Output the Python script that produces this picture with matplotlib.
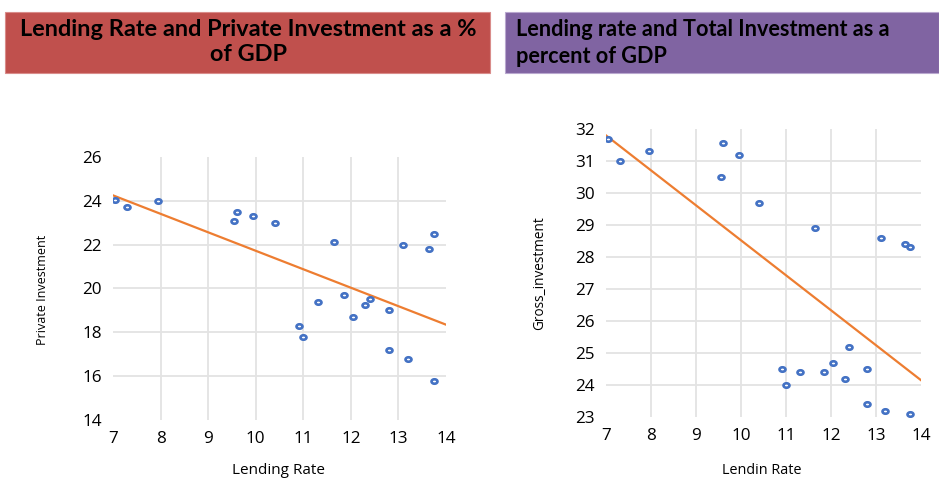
import numpy as np
import matplotlib
matplotlib.use('Agg')
import matplotlib.pyplot as plt
from matplotlib.path import Path
from matplotlib.patches import Rectangle

# Data
lending_rate = [7.05, 7.3, 7.95, 9.6, 9.55, 9.95, 10.4, 11.65, 13.1, 13.65, 13.75,
                10.9, 11.0, 11.3, 11.85, 12.05, 12.3, 12.4, 12.8, 12.8, 13.2, 13.75]
private_inv = [24.05, 23.7, 24.0, 23.5, 23.1, 23.3, 23.0, 22.1, 22.0, 21.8, 22.5,
               18.3, 17.8, 19.4, 19.7, 18.7, 19.25, 19.5, 19.0, 17.2, 16.8, 15.8]
private_trend = [24.25, 18.35]  # trendline value at x = 7 and x = 14
gross_inv = [31.7, 31.0, 31.3, 31.55, 30.5, 31.2, 29.7, 28.9, 28.6, 28.4, 28.3,
             24.5, 24.0, 24.4, 24.4, 24.7, 24.2, 25.2, 24.5, 23.4, 23.2, 23.1]
gross_trend = [31.8, 24.15]
trend_x = [7, 14]

x_ticks = list(range(7, 15))
left_yticks = list(range(14, 27, 2))
right_yticks = list(range(23, 33))

BLUE = '#4472C4'
ORANGE = '#ED7D31'
GRID = '#e3e3e3'

circ = Path.unit_circle()
ellipse = Path(circ.vertices * np.array([1.35, 1.0]), circ.codes)

fig = plt.figure(figsize=(9.39, 4.79), dpi=100)

# title banners
fig.patches.append(Rectangle((5 / 939, 1 - 73 / 479), 485 / 939, 61 / 479,
                             transform=fig.transFigure, facecolor='#C0504D',
                             edgecolor='#d98c8a', lw=0.8))
fig.patches.append(Rectangle((505 / 939, 1 - 73 / 479), 434 / 939, 61 / 479,
                             transform=fig.transFigure, facecolor='#8064A2',
                             edgecolor='#b9a8cf', lw=0.8))
fig.text(248 / 939, 1 - 42 / 479, "Lending Rate and Private Investment as a %\nof GDP",
         ha='center', va='center', fontsize=16.9, fontweight='bold',
         family='Lato', linespacing=1.2)
fig.text(516 / 939, 1 - 43 / 479, "Lending rate and Total Investment as a\npercent of GDP",
         ha='left', va='center', fontsize=15.6, fontweight='bold',
         family='Lato', linespacing=1.3)


def style(ax, yticks, ylim):
	ax.set_xlim(7, 14)
	ax.set_ylim(*ylim)
	ax.set_xticks(x_ticks)
	ax.set_yticks(yticks)
	for s in ax.spines.values():
		s.set_visible(False)
	ax.tick_params(length=0, labelsize=12.3, pad=8)
	for lab in ax.get_xticklabels() + ax.get_yticklabels():
		lab.set_family('Open Sans')
	ax.grid(True, color=GRID, lw=1.3)
	ax.set_axisbelow(True)
	# Excel does not draw gridlines on the plot edges
	for line, t in zip(ax.get_xgridlines(), x_ticks):
		if t in (7, 14):
			line.set_visible(False)
	for line, t in zip(ax.get_ygridlines(), yticks):
		if t in ylim:
			line.set_visible(False)


ax1 = fig.add_axes([113 / 939, 1 - 420 / 479, 333 / 939, 263 / 479])
style(ax1, left_yticks, (14, 26))
ax1.plot(trend_x, private_trend, color=ORANGE, lw=1.6, zorder=2)
ax1.plot(lending_rate, private_inv, ls='none', marker=ellipse, ms=4.3, mfc='white',
         mec=BLUE, mew=1.9, zorder=3)
fig.text(43 / 939, 1 - 290 / 479, "Private Investment", rotation=90, ha='center',
         va='center', fontsize=9, family='Open Sans')
fig.text(279 / 939, 1 - 470 / 479, "Lending Rate", ha='center', va='center',
         fontsize=11, family='Open Sans')

ax2 = fig.add_axes([606 / 939, 1 - 417 / 479, 315 / 939, 288 / 479])
style(ax2, right_yticks, (23, 32))
ax2.plot(trend_x, gross_trend, color=ORANGE, lw=1.6, zorder=2)
ax2.plot(lending_rate, gross_inv, ls='none', marker=ellipse, ms=4.3, mfc='white',
         mec=BLUE, mew=1.9, zorder=3)
fig.text(540 / 939, 1 - 273 / 479, "Gross_investment", rotation=90, ha='center',
         va='center', fontsize=9.8, family='Open Sans')
fig.text(762 / 939, 1 - 471 / 479, "Lendin Rate", ha='center', va='center',
         fontsize=10.4, family='Open Sans')

fig.savefig('out.png', dpi=100)
